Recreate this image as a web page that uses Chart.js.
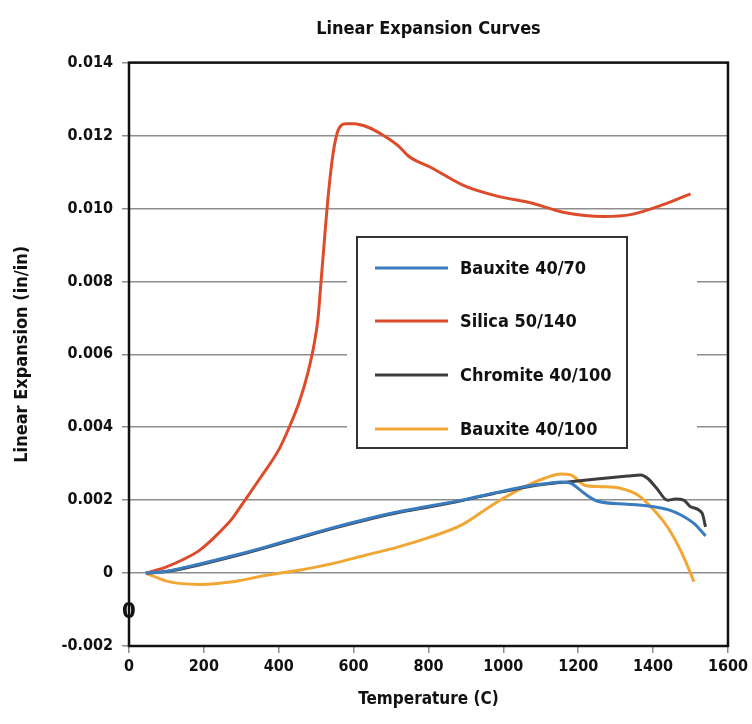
<!DOCTYPE html>
<html>
<head>
<meta charset="utf-8">
<script src="https://cdn.jsdelivr.net/npm/chart.js@4.4.1/dist/chart.umd.min.js"></script>
<style>
  html, body { margin: 0; padding: 0; background: #fff; }
  #wrap { width: 752px; height: 724px; }
</style>
</head>
<body>
<div id="wrap"><canvas id="chart" width="752" height="724"></canvas></div>
<script>
// x ticks (temperature, C) and y ticks (in/in)
const xTicks = [0, 200, 400, 600, 800, 1000, 1200, 1400, 1600];
const yTicks = [-0.002, 0, 0.002, 0.004, 0.006, 0.008, 0.010, 0.012, 0.014];

const seriesNames = ['Bauxite 40/70', 'Silica 50/140', 'Chromite 40/100', 'Bauxite 40/100'];
const seriesColors = ['#3a7cc0', '#dd4b2b', '#3d3d3d', '#f2a634'];

const bauxite4070Temp = [45, 100, 189, 280, 366, 454, 543, 630, 720, 800, 889, 977, 1066, 1120, 1154, 1181, 1200, 1217, 1252, 1332, 1402, 1440, 1473, 1509, 1540];
const bauxite4070Exp  = [0, 0.00005, 0.00025, 0.00048, 0.00072, 0.00098, 0.00124, 0.00147, 0.00168, 0.00183, 0.002, 0.0022, 0.00239, 0.00246, 0.0025, 0.00246, 0.00232, 0.00218, 0.00197, 0.00189, 0.00182, 0.00174, 0.0016, 0.00136, 0.00102];

const silicaTemp = [45, 100, 150, 189, 230, 276, 303, 350, 401, 428, 455, 478, 495, 505, 513, 521, 529, 540, 550, 561, 580, 600, 640, 680, 720, 747, 809, 898, 986, 1075, 1163, 1269, 1340, 1429, 1500];
const silicaExp  = [0, 0.00017, 0.0004, 0.00063, 0.001, 0.0015, 0.0019, 0.0026, 0.0034, 0.004, 0.0047, 0.0055, 0.0063, 0.007, 0.008, 0.009, 0.01, 0.0111, 0.0118, 0.0122, 0.01232, 0.01232, 0.01222, 0.012, 0.01171, 0.01143, 0.01111, 0.01061, 0.01033, 0.01015, 0.00989, 0.00978, 0.00983, 0.01011, 0.0104];

const chromiteTemp = [45, 100, 189, 280, 366, 454, 543, 630, 720, 800, 889, 977, 1066, 1120, 1172, 1243, 1332, 1367, 1385, 1410, 1438, 1460, 1482, 1500, 1531, 1540];
const chromiteExp  = [0, 0.00004, 0.00023, 0.00046, 0.0007, 0.00096, 0.00122, 0.00145, 0.00166, 0.00181, 0.00199, 0.00219, 0.00237, 0.00245, 0.0025, 0.00257, 0.00266, 0.00269, 0.0026, 0.00232, 0.002, 0.00203, 0.002, 0.00182, 0.00164, 0.00127];

const bauxite40100Temp = [45, 100, 189, 277, 366, 454, 543, 632, 720, 800, 889, 977, 1066, 1110, 1154, 1181, 1217, 1261, 1314, 1359, 1402, 1438, 1473, 1500, 1509];
const bauxite40100Exp  = [0, -0.00022, -0.00031, -0.00024, -0.00006, 0.00008, 0.00026, 0.00049, 0.00072, 0.00097, 0.00132, 0.00191, 0.00241, 0.0026, 0.00272, 0.00269, 0.00241, 0.00237, 0.00232, 0.00214, 0.00173, 0.00127, 0.00063, 0, -0.00024];

const toPoints = (xs, ys) => xs.map((x, i) => ({ x: x, y: ys[i] }));
const seriesData = [
    toPoints(bauxite4070Temp, bauxite4070Exp),
    toPoints(silicaTemp, silicaExp),
    toPoints(chromiteTemp, chromiteExp),
    toPoints(bauxite40100Temp, bauxite40100Exp)
];

const FONT = '"DejaVu Sans Condensed", "Liberation Sans Narrow", sans-serif';
const GRID = '#8e8e8e';

// frame, legend box and the stray "0" on the axis
const framePlugin = {
    id: 'frame',
    afterDatasetsDraw(chart) {
        const { ctx, chartArea: a } = chart;
        ctx.save();

        // legend
        ctx.fillStyle = '#fff';
        ctx.fillRect(347, 230, 350, 226);
        ctx.strokeStyle = '#333';
        ctx.lineWidth = 2;
        ctx.strokeRect(357, 237, 270, 211);
        const rows = [268, 321, 375, 429];
        ctx.font = 'bold 18px ' + FONT;
        ctx.textBaseline = 'middle';
        ctx.textAlign = 'left';
        chart.data.datasets.forEach((ds, i) => {
            ctx.strokeStyle = ds.borderColor;
            ctx.lineWidth = 3;
            ctx.beginPath();
            ctx.moveTo(375, rows[i]);
            ctx.lineTo(448, rows[i]);
            ctx.stroke();
            ctx.fillStyle = '#111';
            ctx.fillText(ds.label, 460, rows[i] + 1);
        });

        // plot frame
        ctx.strokeStyle = '#111';
        ctx.lineWidth = 2.5;
        ctx.strokeRect(a.left, a.top, a.right - a.left, a.bottom - a.top);

        ctx.fillStyle = '#111';
        ctx.font = 'bold 22px ' + FONT;
        ctx.textAlign = 'center';
        ctx.fillText('0', a.left, 612);
        ctx.restore();
    }
};

new Chart(document.getElementById('chart'), {
    type: 'scatter',
    data: {
        datasets: seriesNames.map((name, i) => ({
            label: name,
            data: seriesData[i],
            showLine: true,
            borderColor: seriesColors[i],
            backgroundColor: seriesColors[i],
            borderWidth: 3,
            pointRadius: 0,
            cubicInterpolationMode: 'monotone'
        }))
    },
    options: {
        responsive: false,
        animation: false,
        layout: { padding: { left: 0, right: 20, top: 0, bottom: 0 } },
        plugins: {
            legend: { display: false },
            tooltip: { enabled: false },
            title: {
                display: true,
                fullSize: false,
                text: 'Linear Expansion Curves',
                color: '#111',
                font: { family: FONT, size: 18, weight: 'bold' },
                padding: { top: 19, bottom: 22 }
            }
        },
        scales: {
            x: {
                type: 'linear',
                min: 0,
                max: 1600,
                afterBuildTicks: (scale) => { scale.ticks = xTicks.map(v => ({ value: v })); },
                afterFit: (scale) => { scale.height = 78; },
                border: { display: false },
                grid: { drawOnChartArea: false, drawTicks: true, tickLength: 7, color: GRID, lineWidth: 1.5 },
                ticks: {
                    color: '#111',
                    padding: 4,
                    font: { family: FONT, size: 16, weight: 'bold' },
                    callback: (v) => String(v)
                },
                title: {
                    display: true,
                    text: 'Temperature (C)',
                    color: '#111',
                    font: { family: FONT, size: 17, weight: 'bold' },
                    padding: { top: 0, bottom: 14 }
                }
            },
            y: {
                type: 'linear',
                min: -0.002,
                max: 0.014,
                afterBuildTicks: (scale) => { scale.ticks = yTicks.map(v => ({ value: v })); },
                afterFit: (scale) => { scale.width = 129; },
                border: { display: false },
                grid: {
                    drawTicks: true,
                    tickLength: 7,
                    lineWidth: 1.5,
                    color: GRID
                },
                ticks: {
                    color: '#111',
                    padding: 9,
                    font: { family: FONT, size: 16, weight: 'bold' },
                    callback: (v) => Math.abs(v) < 1e-9 ? '0' : v.toFixed(3)
                },
                title: {
                    display: true,
                    text: 'Linear Expansion (in/in)',
                    color: '#111',
                    font: { family: FONT, size: 18, weight: 'bold' },
                    padding: { top: 12, bottom: 0 }
                }
            }
        }
    },
    plugins: [framePlugin]
});
</script>
</body>
</html>
